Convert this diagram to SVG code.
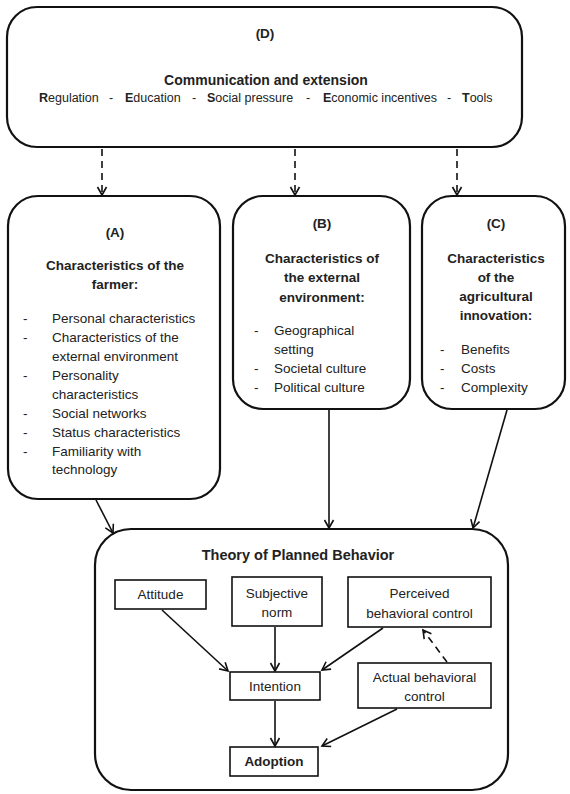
<svg xmlns="http://www.w3.org/2000/svg" width="570" height="794" viewBox="0 0 570 794">
<style>
.box{fill:#fff;stroke:#111;stroke-width:2.2}
.ibox{fill:#fff;stroke:#111;stroke-width:1.6}
text{font-family:"Liberation Sans",Arial,sans-serif;fill:#222;font-size:13.5px}
.b{font-weight:bold}
.c{text-anchor:middle}
.d{font-size:12.5px}
.con{fill:none;stroke:#111;stroke-width:1.6}
.dash{stroke-dasharray:7 5}
</style>
<defs>
<marker id="ah" markerUnits="userSpaceOnUse" markerWidth="12" markerHeight="12" refX="9" refY="5" orient="auto" viewBox="0 0 12 10">
<path d="M1,0.5 L9,5 L1,9.5" fill="none" stroke="#111" stroke-width="1.6"/>
</marker>
</defs>
<rect width="570" height="794" fill="#fff"/>
<g id="nodeD">
<rect class="box" x="7" y="7" width="515" height="140" rx="30"/>
<text class="b c" x="265" y="38">(D)</text>
<text class="b c" x="266" y="85" style="font-size:14px">Communication and extension</text>
<text class="d" y="101.5"><tspan x="39"><tspan class="b">R</tspan>egulation</tspan><tspan x="109">-</tspan><tspan x="125"><tspan class="b">E</tspan>ducation</tspan><tspan x="192">-</tspan><tspan x="207"><tspan class="b">S</tspan>ocial pressure</tspan><tspan x="306">-</tspan><tspan x="323"><tspan class="b">E</tspan>conomic incentives</tspan><tspan x="447">-</tspan><tspan x="462"><tspan class="b">T</tspan>ools</tspan></text>
</g>
<g id="nodeA">
<rect class="box" x="8" y="196" width="212" height="303" rx="30"/>
<text class="b c" x="115" y="237">(A)</text>
<text class="b c" x="115" y="270">Characteristics of the</text>
<text class="b c" x="115" y="288.5">farmer:</text>
<g>
<text x="23" y="323">-</text><text x="52" y="323">Personal characteristics</text>
<text x="23" y="342">-</text><text x="52" y="342">Characteristics of the</text>
<text x="52" y="361">external environment</text>
<text x="23" y="380">-</text><text x="52" y="380">Personality</text>
<text x="52" y="398.5">characteristics</text>
<text x="23" y="417.5">-</text><text x="52" y="417.5">Social networks</text>
<text x="23" y="436.5">-</text><text x="52" y="436.5">Status characteristics</text>
<text x="23" y="455.5">-</text><text x="52" y="455.5">Familiarity with</text>
<text x="52" y="474">technology</text>
</g>
</g>
<g id="nodeB">
<rect class="box" x="233" y="196" width="177" height="213" rx="30"/>
<text class="b c" x="322" y="228">(B)</text>
<text class="b c" x="322" y="263">Characteristics of</text>
<text class="b c" x="322" y="282">the external</text>
<text class="b c" x="322" y="301.5">environment:</text>
<text x="254" y="335">-</text><text x="274" y="335">Geographical</text>
<text x="274" y="354">setting</text>
<text x="254" y="373">-</text><text x="274" y="373">Societal culture</text>
<text x="254" y="392">-</text><text x="274" y="392">Political culture</text>
</g>
<g id="nodeC">
<rect class="box" x="422" y="196" width="143" height="213" rx="30"/>
<text class="b c" x="496" y="228">(C)</text>
<text class="b c" x="496" y="263">Characteristics</text>
<text class="b c" x="496" y="282">of the</text>
<text class="b c" x="496" y="301">agricultural</text>
<text class="b c" x="496" y="320">innovation:</text>
<text x="440" y="354">-</text><text x="461" y="354">Benefits</text>
<text x="440" y="373">-</text><text x="461" y="373">Costs</text>
<text x="440" y="392">-</text><text x="461" y="392">Complexity</text>
</g>
<g id="nodeTPB">
<rect class="box" x="95" y="529" width="413" height="261" rx="36"/>
<text class="b c" x="298" y="560" style="font-size:14.5px">Theory of Planned Behavior</text>
</g>
<g id="nodeAttitude">
<rect class="ibox" x="115" y="580" width="91" height="29"/>
<text class="c" x="160.5" y="599">Attitude</text>
</g>
<g id="nodeSubjective">
<rect class="ibox" x="232" y="577" width="90" height="49"/>
<text class="c" x="277" y="598">Subjective</text>
<text class="c" x="277" y="617">norm</text>
</g>
<g id="nodePerceived">
<rect class="ibox" x="348" y="577" width="143" height="50"/>
<text class="c" x="419.5" y="598">Perceived</text>
<text class="c" x="419.5" y="618">behavioral control</text>
</g>
<g id="nodeIntention">
<rect class="ibox" x="230" y="672" width="90" height="28"/>
<text class="c" x="275" y="691">Intention</text>
</g>
<g id="nodeActual">
<rect class="ibox" x="358" y="663" width="133" height="45"/>
<text class="c" x="424.5" y="682">Actual behavioral</text>
<text class="c" x="424.5" y="701">control</text>
</g>
<g id="nodeAdoption">
<rect class="ibox" x="230" y="747" width="88" height="29"/>
<text class="b c" x="274" y="766">Adoption</text>
</g>
<g id="connectors">
<line class="con dash" x1="102" y1="149" x2="102" y2="195" marker-end="url(#ah)"/>
<line class="con dash" x1="295" y1="149" x2="295" y2="195" marker-end="url(#ah)"/>
<line class="con dash" x1="457" y1="149" x2="457" y2="195" marker-end="url(#ah)"/>
<line class="con" x1="96" y1="500" x2="113" y2="533" marker-end="url(#ah)"/>
<line class="con" x1="329" y1="410" x2="329" y2="528" marker-end="url(#ah)"/>
<line class="con" x1="507" y1="410" x2="473" y2="528" marker-end="url(#ah)"/>
<line class="con" x1="162" y1="610" x2="228" y2="671" marker-end="url(#ah)"/>
<line class="con" x1="275" y1="627" x2="275" y2="671" marker-end="url(#ah)"/>
<line class="con" x1="383" y1="628" x2="322" y2="670" marker-end="url(#ah)"/>
<line class="con dash" x1="447" y1="662" x2="423" y2="630" marker-end="url(#ah)"/>
<line class="con" x1="275" y1="701" x2="275" y2="746" marker-end="url(#ah)"/>
<line class="con" x1="397" y1="709" x2="322" y2="746" marker-end="url(#ah)"/>
</g>
</svg>
